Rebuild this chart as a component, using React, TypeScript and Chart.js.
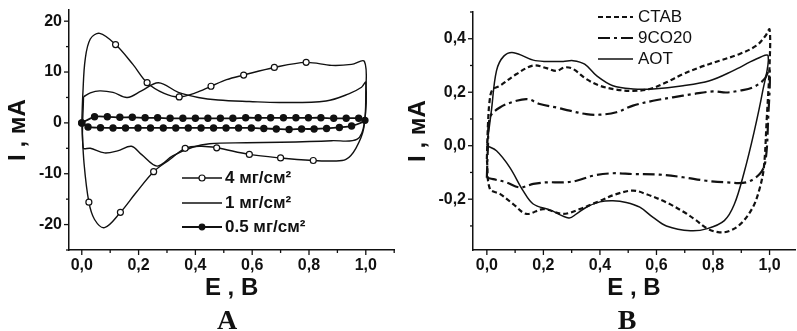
import React, { useEffect, useRef } from 'react';
import { Chart, registerables } from 'chart.js';

Chart.register(...registerables);

const SANS = "'Liberation Sans', Arial, Helvetica, sans-serif";
const SERIF = "'Liberation Serif', 'Times New Roman', serif";
const INK = '#111111';

// ---------------- Panel A (I, mA vs E, V) ----------------
const aLabels = ['4 мг/см²', '1 мг/см²', '0.5 мг/см²'];

const a4E = [0, 0.004, 0.012, 0.03, 0.063, 0.119, 0.18, 0.23, 0.29, 0.343, 0.40, 0.455, 0.51, 0.57, 0.678, 0.79, 0.88, 0.95, 0.995, 1.0, 0.993, 0.965, 0.93, 0.88, 0.815, 0.70, 0.59, 0.475, 0.42, 0.364, 0.31, 0.253, 0.19, 0.136, 0.08, 0.045, 0.025, 0.008, 0];
const a4I = [0, 6, 12.5, 16.5, 17.6, 15.4, 11.5, 7.9, 5.8, 5.1, 5.9, 7.2, 8.5, 9.4, 10.9, 11.9, 11.3, 11.5, 12.1, 6, -1, -5, -7.2, -7.5, -7.4, -6.9, -6.2, -4.9, -4.6, -5.0, -7.2, -9.6, -13.8, -17.6, -20.6, -19.0, -15.6, -8, 0];
const a4Marks = [5, 7, 9, 11, 13, 14, 15, 24, 25, 26, 27, 29, 31, 33, 36];

const a1E = [0.006, 0.03, 0.063, 0.11, 0.16, 0.21, 0.27, 0.34, 0.41, 0.48, 0.59, 0.70, 0.86, 0.94, 0.985, 1.0, 0.995, 0.97, 0.88, 0.70, 0.58, 0.45, 0.39, 0.32, 0.265, 0.21, 0.175, 0.126, 0.08, 0.03, 0.005, 0.006];
const a1I = [5.1, 5.9, 6.3, 6.0, 5.0, 6.3, 7.9, 6.0, 5.0, 4.5, 4.2, 4.0, 4.3, 5.7, 7.0, 8.0, 0, -3.2, -3.5, -3.8, -3.9, -4.1, -4.8, -6.5, -8.5, -6.2, -4.6, -5.5, -5.9, -5.0, -4.9, 5.1];

const a05E = [0, 0.045, 0.09, 0.134, 0.178, 0.223, 0.267, 0.311, 0.356, 0.40, 0.444, 0.488, 0.532, 0.577, 0.621, 0.665, 0.71, 0.754, 0.798, 0.842, 0.887, 0.931, 0.975, 0.997, 0.95, 0.907, 0.862, 0.818, 0.774, 0.73, 0.685, 0.641, 0.597, 0.552, 0.508, 0.464, 0.42, 0.375, 0.331, 0.287, 0.242, 0.198, 0.154, 0.11, 0.066, 0.022, 0];
const a05I = [0, 1.2, 1.2, 1.1, 1.1, 1.0, 1.0, 0.9, 0.9, 0.9, 0.9, 0.9, 0.9, 1.0, 1.0, 1.0, 1.0, 1.0, 1.0, 1.0, 0.9, 0.9, 0.9, 0.5, -0.6, -0.9, -1.1, -1.2, -1.2, -1.3, -1.2, -1.1, -1.0, -1.0, -1.0, -1.0, -1.0, -1.0, -1.0, -1.0, -1.0, -1.0, -1.0, -1.0, -0.95, -0.8, 0];

// ---------------- Panel B (I, mA vs E, V) ----------------
const bLabels = ['CTAB', '9CO20', 'AOT'];

const bCtabE = [0.0, 0.004, 0.01, 0.02, 0.046, 0.105, 0.164, 0.211, 0.246, 0.276, 0.305, 0.352, 0.4, 0.458, 0.517, 0.576, 0.635, 0.694, 0.753, 0.823, 0.894, 0.953, 0.985, 1.0, 1.0, 0.99, 0.98, 0.965, 0.941, 0.9, 0.86, 0.823, 0.78, 0.735, 0.7, 0.635, 0.564, 0.517, 0.458, 0.4, 0.329, 0.27, 0.199, 0.14, 0.093, 0.046, 0.011, 0.0];
const bCtabI = [-0.05, 0.08, 0.17, 0.21, 0.224, 0.268, 0.3, 0.29, 0.28, 0.293, 0.287, 0.249, 0.224, 0.21, 0.205, 0.212, 0.237, 0.268, 0.293, 0.318, 0.343, 0.374, 0.41, 0.435, 0.3, 0.1, -0.08, -0.16, -0.23, -0.29, -0.318, -0.324, -0.31, -0.275, -0.25, -0.212, -0.181, -0.168, -0.181, -0.206, -0.237, -0.255, -0.237, -0.255, -0.218, -0.18, -0.162, -0.05];

const b9coE = [0.0, 0.004, 0.011, 0.046, 0.105, 0.146, 0.187, 0.246, 0.293, 0.352, 0.4, 0.458, 0.517, 0.588, 0.658, 0.729, 0.8, 0.847, 0.894, 0.941, 0.982, 1.0, 0.995, 0.985, 0.965, 0.918, 0.847, 0.776, 0.694, 0.611, 0.517, 0.446, 0.376, 0.317, 0.27, 0.211, 0.164, 0.117, 0.069, 0.022, 0.0];
const b9coI = [-0.12, 0.0, 0.106, 0.143, 0.168, 0.174, 0.156, 0.143, 0.131, 0.118, 0.116, 0.125, 0.15, 0.168, 0.181, 0.193, 0.203, 0.199, 0.206, 0.218, 0.249, 0.285, 0.1, -0.06, -0.106, -0.137, -0.137, -0.131, -0.118, -0.108, -0.106, -0.103, -0.112, -0.131, -0.137, -0.137, -0.143, -0.156, -0.137, -0.125, -0.12];

const bAotE = [0, 0.016, 0.034, 0.06, 0.095, 0.164, 0.21, 0.27, 0.305, 0.346, 0.39, 0.446, 0.517, 0.588, 0.694, 0.788, 0.87, 0.953, 0.995, 0.975, 0.945, 0.91, 0.875, 0.84, 0.78, 0.72, 0.635, 0.588, 0.541, 0.493, 0.446, 0.4, 0.352, 0.317, 0.29, 0.223, 0.164, 0.128, 0.081, 0.034, 0];
const bAotI = [0, 0.13, 0.28, 0.335, 0.348, 0.32, 0.315, 0.315, 0.318, 0.305, 0.26, 0.224, 0.212, 0.212, 0.224, 0.243, 0.28, 0.324, 0.336, 0.2, 0.05, -0.1, -0.22, -0.28, -0.31, -0.318, -0.3, -0.268, -0.23, -0.212, -0.206, -0.21, -0.23, -0.255, -0.27, -0.24, -0.218, -0.168, -0.081, -0.019, 0];

const pts = (xs: number[], ys: number[]) => xs.map((x, i) => ({ x, y: ys[i] }));

// Minor / major tick marks drawn outward from the axes
const axisTicksPlugin = {
  id: 'axisTicks',
  afterDraw(chart: any, _args: any, opts: any) {
    const ctx = chart.ctx;
    ctx.save();
    ctx.strokeStyle = INK;
    ctx.lineWidth = 1.3;
    (['x', 'y'] as const).forEach((id) => {
      const s = chart.scales[id];
      const major = id === 'x' ? opts.xMajor : opts.yMajor;
      s.ticks.forEach((t: any) => {
        const r = t.value / major;
        const isMajor = Math.abs(r - Math.round(r)) < 1e-6;
        const len = isMajor ? 5 : 3;
        const p = s.getPixelForValue(t.value);
        ctx.beginPath();
        if (id === 'x') {
          ctx.moveTo(p, s.top);
          ctx.lineTo(p, s.top + len);
        } else {
          ctx.moveTo(s.right, p);
          ctx.lineTo(s.right - len, p);
        }
        ctx.stroke();
      });
    });
    ctx.restore();
  },
};

// Legend drawn inside the plot at given spots, from the datasets' own styles
const boxLegendPlugin = {
  id: 'boxLegend',
  afterDraw(chart: any, _args: any, opts: any) {
    const ctx = chart.ctx;
    ctx.save();
    chart.data.datasets.forEach((ds: any, i: number) => {
      const y = opts.rows[i];
      ctx.strokeStyle = ds.borderColor;
      ctx.lineWidth = ds.borderWidth;
      ctx.setLineDash(ds.borderDash || []);
      ctx.beginPath();
      ctx.moveTo(opts.x0, y);
      ctx.lineTo(opts.x1, y);
      ctx.stroke();
      ctx.setLineDash([]);
      if (ds.legendMarker) {
        const cx = (opts.x0 + opts.x1) / 2;
        ctx.beginPath();
        ctx.arc(cx, y, ds.legendMarker === 'open' ? 3 : 2.8, 0, Math.PI * 2);
        ctx.fillStyle = ds.legendMarker === 'open' ? '#ffffff' : INK;
        ctx.fill();
        ctx.lineWidth = 1.2;
        ctx.strokeStyle = INK;
        ctx.stroke();
      }
      ctx.fillStyle = INK;
      ctx.font = opts.font;
      ctx.textAlign = 'left';
      ctx.textBaseline = 'middle';
      ctx.fillText(ds.label, opts.textX, y);
    });
    ctx.restore();
  },
};

const tickFont = { family: SANS, size: 16, weight: 'bold' as const };
const titleFont = { family: SANS, size: 24, weight: 'bold' as const };
const commaTenths = (v: number) => (Math.round(v * 10) / 10).toFixed(1).replace('.', ',');

function xScale(min: number, max: number, axisHeight: number) {
  return {
    type: 'linear',
    min,
    max,
    afterFit: (s: any) => {
      s.height = axisHeight;
      s.paddingLeft = 0;
      s.paddingRight = 0;
    },
    grid: { display: false, drawTicks: false },
    border: { display: true, color: INK, width: 1.5 },
    ticks: {
      stepSize: 0.1,
      autoSkip: false,
      maxRotation: 0,
      includeBounds: false,
      padding: 6,
      color: INK,
      font: tickFont,
      callback: (v: number) => (Math.round(v * 10) % 2 === 0 ? commaTenths(v) : ''),
    },
    title: { display: true, text: 'E , В', color: INK, font: titleFont, padding: { top: 0, bottom: 2 } },
  };
}

function yScale(min: number, max: number, axisWidth: number, step: number, label: (v: number) => string) {
  return {
    type: 'linear',
    min,
    max,
    afterFit: (s: any) => {
      s.width = axisWidth;
      s.paddingTop = 0;
      s.paddingBottom = 0;
    },
    grid: { display: false, drawTicks: false },
    border: { display: true, color: INK, width: 1.5 },
    ticks: {
      stepSize: step,
      autoSkip: false,
      includeBounds: false,
      padding: 7,
      color: INK,
      font: tickFont,
      callback: label,
    },
    title: { display: true, text: 'I , мА', color: INK, font: titleFont, padding: { top: 4, bottom: 0 } },
  };
}

function configA(): any {
  return {
    type: 'scatter',
    data: {
      datasets: [
        {
          label: aLabels[0],
          data: pts(a4E, a4I),
          showLine: true,
          borderColor: INK,
          borderWidth: 1.4,
          tension: 0.35,
          pointRadius: (c: any) => (a4Marks.includes(c.dataIndex) ? 3 : 0),
          pointBackgroundColor: '#ffffff',
          pointBorderColor: INK,
          pointBorderWidth: 1.2,
          legendMarker: 'open',
        },
        {
          label: aLabels[1],
          data: pts(a1E, a1I),
          showLine: true,
          borderColor: INK,
          borderWidth: 1.4,
          tension: 0.35,
          pointRadius: 0,
        },
        {
          label: aLabels[2],
          data: pts(a05E, a05I),
          showLine: true,
          borderColor: INK,
          borderWidth: 1.8,
          tension: 0.3,
          pointRadius: 2.8,
          pointBackgroundColor: INK,
          pointBorderColor: INK,
          legendMarker: 'filled',
        },
      ],
    },
    options: {
      responsive: false,
      animation: false,
      devicePixelRatio: 1,
      events: [],
      layout: { padding: { left: 0, right: 3, top: 10, bottom: 0 } },
      plugins: {
        legend: { display: false },
        tooltip: { enabled: false },
        axisTicks: { xMajor: 0.2, yMajor: 10 },
        boxLegend: { x0: 182, x1: 222, textX: 225, rows: [178, 203, 227], font: `bold 17px ${SANS}` },
      },
      scales: {
        x: xScale(-0.045, 1.1, 55),
        y: yScale(-25, 22.2, 69, 5, (v: number) => (v % 10 === 0 ? String(v) : '')),
      },
    },
    plugins: [axisTicksPlugin, boxLegendPlugin],
  };
}

function configB(): any {
  return {
    type: 'scatter',
    data: {
      datasets: [
        {
          label: bLabels[0],
          data: pts(bCtabE, bCtabI),
          showLine: true,
          borderColor: INK,
          borderWidth: 2.2,
          borderDash: [5, 3],
          tension: 0.35,
          pointRadius: 0,
        },
        {
          label: bLabels[1],
          data: pts(b9coE, b9coI),
          showLine: true,
          borderColor: INK,
          borderWidth: 2.2,
          borderDash: [12, 4, 3, 4],
          tension: 0.35,
          pointRadius: 0,
        },
        {
          label: bLabels[2],
          data: pts(bAotE, bAotI),
          showLine: true,
          borderColor: INK,
          borderWidth: 1.5,
          tension: 0.35,
          pointRadius: 0,
        },
      ],
    },
    options: {
      responsive: false,
      animation: false,
      devicePixelRatio: 1,
      events: [],
      layout: { padding: { left: 0, right: 2, top: 12, bottom: 0 } },
      plugins: {
        legend: { display: false },
        tooltip: { enabled: false },
        axisTicks: { xMajor: 0.2, yMajor: 0.2 },
        boxLegend: { x0: 198, x1: 233, textX: 238, rows: [17, 38, 59], font: `17px ${SANS}` },
      },
      scales: {
        x: xScale(-0.049, 1.09, 55),
        y: yScale(-0.39, 0.5, 73, 0.1, (v: number) => (Math.round(v * 10) % 2 === 0 ? commaTenths(v) : '')),
      },
    },
    plugins: [axisTicksPlugin, boxLegendPlugin],
  };
}

function ChartCanvas({ make, left, width, height }: { make: () => any; left: number; width: number; height: number }) {
  const ref = useRef<HTMLCanvasElement>(null);
  useEffect(() => {
    const chart = new Chart(ref.current as HTMLCanvasElement, make());
    return () => chart.destroy();
  }, [make]);
  return (
    <canvas
      ref={ref}
      width={width}
      height={height}
      style={{ position: 'absolute', left, top: 0, width, height, display: 'block' }}
    />
  );
}

const panelLetter = (cx: number): React.CSSProperties => ({
  position: 'absolute',
  left: cx - 30,
  width: 60,
  top: 306,
  textAlign: 'center',
  font: `bold 28px ${SERIF}`,
  lineHeight: '28px',
  color: INK,
});

export default function App() {
  return (
    <div style={{ position: 'absolute', left: 0, top: 0, width: 797, height: 331, background: '#ffffff', overflow: 'hidden' }}>
      <ChartCanvas make={configA} left={0} width={400} height={305} />
      <ChartCanvas make={configB} left={400} width={397} height={305} />
      <div style={panelLetter(227)}>A</div>
      <div style={panelLetter(627)}>B</div>
    </div>
  );
}
